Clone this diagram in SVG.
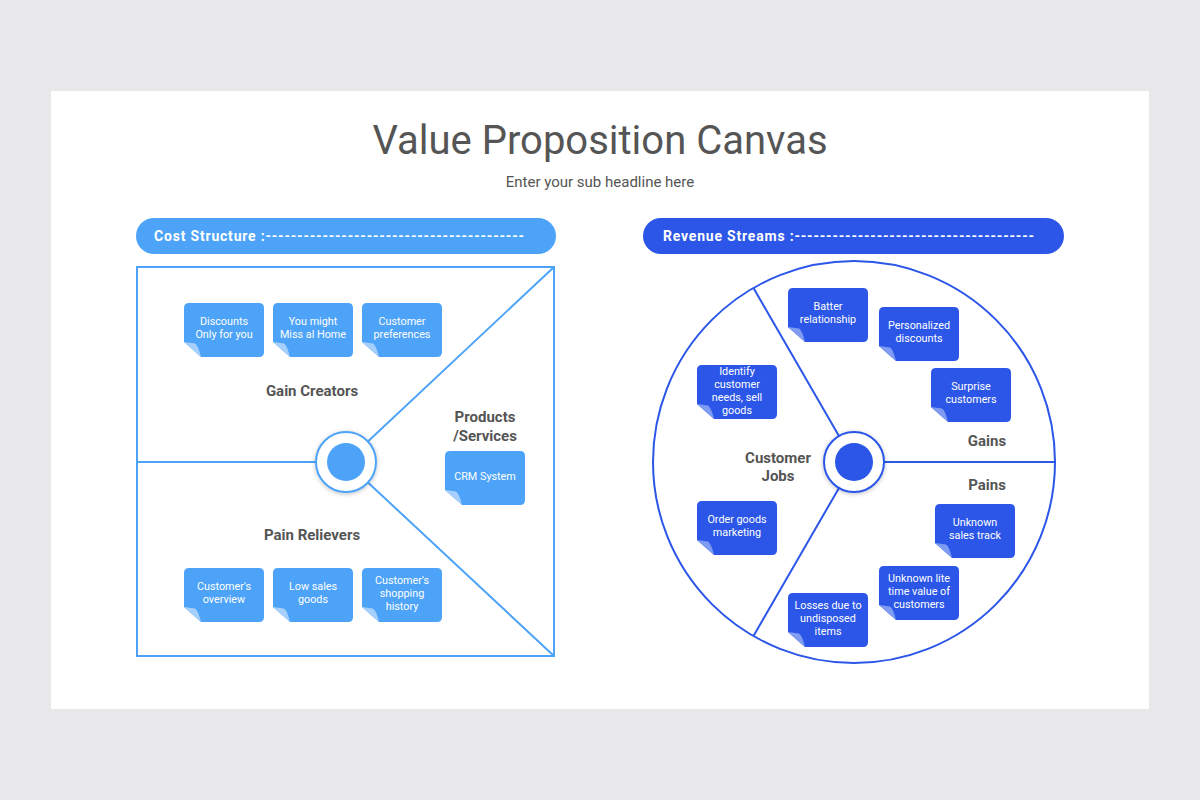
<svg xmlns="http://www.w3.org/2000/svg" width="1200" height="800" viewBox="0 0 1200 800">
<defs>
<style>
.title{font-family:Roboto,"Liberation Sans",sans-serif;font-size:40px;fill:#555;text-anchor:middle}
.sub{font-family:Roboto,"Liberation Sans",sans-serif;font-size:15px;fill:#555;text-anchor:middle}
.pill{font-family:Roboto,"Liberation Sans",sans-serif;font-size:14px;font-weight:bold;fill:#fff}
.lbl{font-family:Roboto,"Liberation Sans",sans-serif;font-size:15px;font-weight:bold;fill:#555;text-anchor:middle}
.nt{font-family:Roboto,"Liberation Sans",sans-serif;font-size:10.8px;fill:#fff;text-anchor:middle}
.lb{fill:#4da3f7}
.lbf{fill:#a6d0fb}
.db{fill:#2b56e8}
.dbf{fill:#7f9cf2}
.lline{stroke:#4da3f7;stroke-width:2;fill:none}
.dline{stroke:#2b56e8;stroke-width:2;fill:none}
</style>
<path id="note" d="M5,0 H75 Q80,0 80,5 V49 Q80,54 75,54 H17 L0,39 V5 Q0,0 5,0 Z"/>
<path id="fold" d="M0,39 L11,40.5 Q14,42 17,54 Z"/>
<filter id="sh" x="-30%" y="-30%" width="160%" height="160%">
<feDropShadow dx="0" dy="1" stdDeviation="2" flood-color="#000" flood-opacity="0.25"/>
</filter>
</defs>
<rect width="1200" height="800" fill="#e8e8ea"/>
<rect x="51" y="91" width="1098" height="618" fill="#fff"/>
<text class="title" x="600" y="154">Value Proposition Canvas</text>
<text class="sub" x="600" y="187">Enter your sub headline here</text>

<g id="cost-structure">
<rect x="136" y="218" width="420" height="36" rx="18" class="lb"/>
<text class="pill" x="154" y="241" textLength="370" lengthAdjust="spacing">Cost Structure :-----------------------------------------</text>
</g>
<g id="revenue-streams">
<rect x="643" y="218" width="421" height="36" rx="18" class="db"/>
<text class="pill" x="663" y="241" textLength="371" lengthAdjust="spacing">Revenue Streams :--------------------------------------</text>
</g>

<g id="value-map">
<rect x="137" y="267" width="417" height="389" fill="#f2f2f2" class="lline"/>
</g>
<g id="customer-profile">
<circle cx="854" cy="462" r="201" fill="#f2f2f2" class="dline"/>
</g>

<g id="connectors">
<line x1="137" y1="462" x2="346" y2="462" class="lline"/>
<line x1="346" y1="462" x2="554" y2="267" class="lline"/>
<line x1="346" y1="462" x2="554" y2="656" class="lline"/>
<line x1="854" y1="462" x2="1055" y2="462" class="dline"/>
<line x1="854" y1="462" x2="753.5" y2="288" class="dline"/>
<line x1="854" y1="462" x2="753.5" y2="636" class="dline"/>
</g>

<g id="hub-left">
<circle cx="346" cy="462" r="30" fill="#fff" stroke="#4da3f7" stroke-width="2" filter="url(#sh)"/>
<circle cx="346" cy="462" r="19" class="lb"/>
</g>
<g id="hub-right">
<circle cx="854" cy="462" r="30" fill="#fff" stroke="#2b56e8" stroke-width="2" filter="url(#sh)"/>
<circle cx="854" cy="462" r="19" class="db"/>
</g>

<g id="labels">
<text class="lbl" x="312" y="396">Gain Creators</text>
<text class="lbl" x="312" y="540">Pain Relievers</text>
<text class="lbl" x="485" y="422">Products</text>
<text class="lbl" x="485" y="441">/Services</text>
<text class="lbl" x="987" y="446">Gains</text>
<text class="lbl" x="987" y="490">Pains</text>
<text class="lbl" x="778" y="463">Customer</text>
<text class="lbl" x="778" y="481">Jobs</text>
</g>

<g id="note-discounts" transform="translate(184,303)">
<use href="#note" class="lb"/><use href="#fold" class="lbf"/>
<text class="nt" x="40" y="22">Discounts</text><text class="nt" x="40" y="35">Only for you</text>
</g>
<g id="note-missal" transform="translate(273,303)">
<use href="#note" class="lb"/><use href="#fold" class="lbf"/>
<text class="nt" x="40" y="22">You might</text><text class="nt" x="40" y="35">Miss al Home</text>
</g>
<g id="note-preferences" transform="translate(362,303)">
<use href="#note" class="lb"/><use href="#fold" class="lbf"/>
<text class="nt" x="40" y="22">Customer</text><text class="nt" x="40" y="35">preferences</text>
</g>
<g id="note-crm" transform="translate(445,451)">
<use href="#note" class="lb"/><use href="#fold" class="lbf"/>
<text class="nt" x="40" y="29">CRM System</text>
</g>
<g id="note-overview" transform="translate(184,568)">
<use href="#note" class="lb"/><use href="#fold" class="lbf"/>
<text class="nt" x="40" y="22">Customer's</text><text class="nt" x="40" y="35">overview</text>
</g>
<g id="note-lowsales" transform="translate(273,568)">
<use href="#note" class="lb"/><use href="#fold" class="lbf"/>
<text class="nt" x="40" y="22">Low sales</text><text class="nt" x="40" y="35">goods</text>
</g>
<g id="note-history" transform="translate(362,568)">
<use href="#note" class="lb"/><use href="#fold" class="lbf"/>
<text class="nt" x="40" y="16">Customer's</text><text class="nt" x="40" y="29">shopping</text><text class="nt" x="40" y="42">history</text>
</g>

<g id="note-batter" transform="translate(788,288)">
<use href="#note" class="db"/><use href="#fold" class="dbf"/>
<text class="nt" x="40" y="22">Batter</text><text class="nt" x="40" y="35">relationship</text>
</g>
<g id="note-personalized" transform="translate(879,307)">
<use href="#note" class="db"/><use href="#fold" class="dbf"/>
<text class="nt" x="40" y="22">Personalized</text><text class="nt" x="40" y="35">discounts</text>
</g>
<g id="note-surprise" transform="translate(931,368)">
<use href="#note" class="db"/><use href="#fold" class="dbf"/>
<text class="nt" x="40" y="22">Surprise</text><text class="nt" x="40" y="35">customers</text>
</g>
<g id="note-identify" transform="translate(697,365)">
<use href="#note" class="db"/><use href="#fold" class="dbf"/>
<text class="nt" x="40" y="10">Identify</text><text class="nt" x="40" y="23">customer</text><text class="nt" x="40" y="36">needs, sell</text><text class="nt" x="40" y="49">goods</text>
</g>
<g id="note-order" transform="translate(697,501)">
<use href="#note" class="db"/><use href="#fold" class="dbf"/>
<text class="nt" x="40" y="22">Order goods</text><text class="nt" x="40" y="35">marketing</text>
</g>
<g id="note-salestrack" transform="translate(935,504)">
<use href="#note" class="db"/><use href="#fold" class="dbf"/>
<text class="nt" x="40" y="22">Unknown</text><text class="nt" x="40" y="35">sales track</text>
</g>
<g id="note-lifetime" transform="translate(879,566)">
<use href="#note" class="db"/><use href="#fold" class="dbf"/>
<text class="nt" x="40" y="16">Unknown lite</text><text class="nt" x="40" y="29">time value of</text><text class="nt" x="40" y="42">customers</text>
</g>
<g id="note-losses" transform="translate(788,593)">
<use href="#note" class="db"/><use href="#fold" class="dbf"/>
<text class="nt" x="40" y="16">Losses due to</text><text class="nt" x="40" y="29">undisposed</text><text class="nt" x="40" y="42">items</text>
</g>
</svg>
